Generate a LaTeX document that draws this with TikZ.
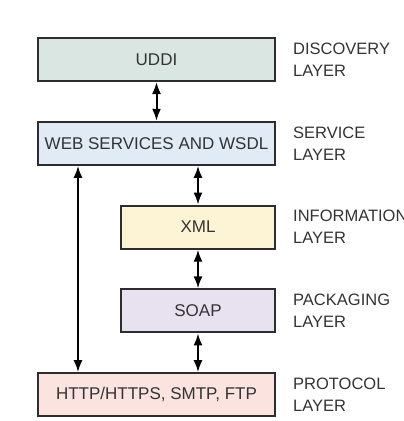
\documentclass[tikz,border=0pt]{standalone}
\usepackage{fontspec}
\setmainfont{Liberation Sans}
\usepackage{tikz}
\usetikzlibrary{arrows.meta,positioning}
\definecolor{ink}{HTML}{333333}
\definecolor{frame}{HTML}{2D2D2D}
\definecolor{greenfill}{HTML}{D9E6E1}
\definecolor{bluefill}{HTML}{E1EBF5}
\definecolor{yellowfill}{HTML}{FDF3D5}
\definecolor{purplefill}{HTML}{E8E1EF}
\definecolor{redfill}{HTML}{FBE4DF}

\begin{document}
\begin{tikzpicture}[x=1pt,y=1pt,% layer boxes and their side labels
			every node/.style={
				text=ink,
				font=\fontsize{17}{22}\selectfont
			},
			layer/.style={
				rectangle,line width=2pt,draw=frame,
				minimum height=43pt,	% box height without the frame
				inner sep=0pt
			},
			wide/.style={layer,minimum width=237pt},
			narrow/.style={layer,minimum width=154pt},
			tag/.style={
				anchor=west,align=left,inner sep=0pt,
				font=\fontsize{16.5}{22}\selectfont
			},
			node distance=38.8pt,
			>={Latex[length=12pt,width=9pt]},
			every edge/.style={draw,line width=2pt}
		]
		\useasboundingbox (0,0) rectangle (404,-421);
		\node[wide,fill=greenfill](UDDI) at (156.5,-59.5){UDDI};
		\node[wide,fill=bluefill](WSDL)[below= of UDDI]{WEB SERVICES AND WSDL};
		\node[narrow,fill=yellowfill](XML)[below= of WSDL,xshift=41.5pt]{XML};
		\node[narrow,fill=purplefill](SOAP)[below= of XML]{SOAP};
		\node[wide,fill=redfill](HTTP)[below= of SOAP,xshift=-41.5pt]{HTTP/HTTPS, SMTP, FTP};
		% layer names on the right
		\node[tag](T1)[right=17pt of UDDI]{DISCOVERY\\LAYER};
		\node[tag](T2)[right=17pt of WSDL]{SERVICE\\LAYER};
		\node[tag](T3)[right=17pt of XML]{INFORMATION\\LAYER};
		\node[tag](T4)[right=17pt of SOAP]{PACKAGING\\LAYER};
		\node[tag](T5)[right=17pt of HTTP]{PROTOCOL\\LAYER};
		\path[<->]
		(UDDI)edge []	node [] {} (WSDL)
		(XML.north |- WSDL.south)edge []	node [] {} (XML)
		(XML)edge []	node [] {} (SOAP)
		(SOAP)edge []	node [] {} (SOAP.south |- HTTP.north)
		([xshift=41pt]WSDL.south west)edge []	node [] {} ([xshift=41pt]HTTP.north west)
		;
	\end{tikzpicture}
\end{document}
